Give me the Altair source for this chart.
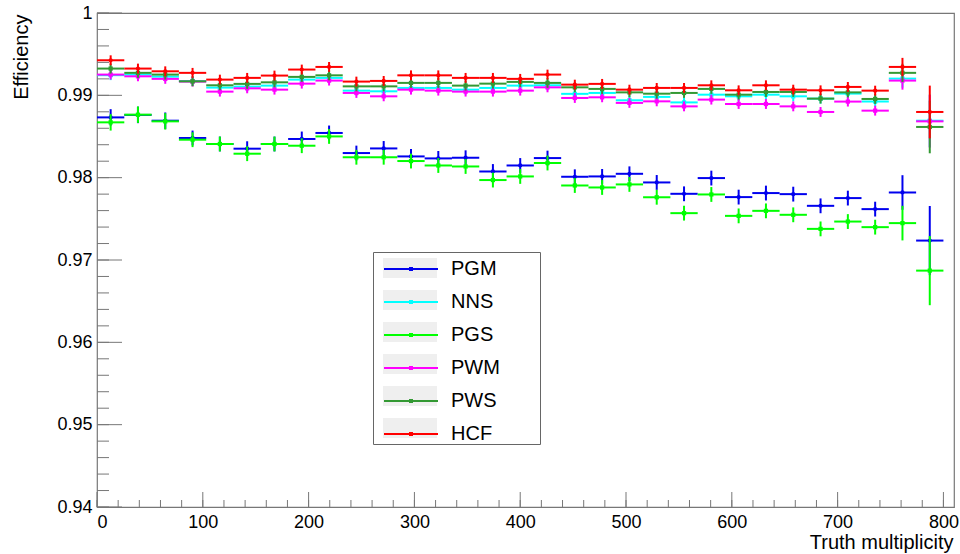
import altair as alt
import pandas as pd

# ---------------- data ----------------
names = ["PGM", "NNS", "PGS", "PWM", "PWS", "HCF"]
colors = ["#0000ee", "#00ffff", "#00ff00", "#ff00ff", "#339933", "#ff0000"]
shapes = ["circle", "square", "square", "square", "square", "circle"]

n_bins = 31
x_low, x_high = 0, 800

pgm = [0.98732, 0.98762, 0.98692, 0.98482, 0.98409, 0.98352, 0.98409, 0.98470, 0.98543, 0.98299,
       0.98355, 0.98258, 0.98234, 0.98242, 0.98075, 0.98148, 0.98238, 0.98011, 0.98015, 0.98047,
       0.97942, 0.97804, 0.97995, 0.97764, 0.97813, 0.97800, 0.97658, 0.97752, 0.97618, 0.97820,
       0.97236]
nns = [0.99245, 0.99252, 0.99227, 0.99173, 0.99094, 0.99106, 0.99118, 0.99191, 0.99212, 0.99057,
       0.99049, 0.99090, 0.99090, 0.99069, 0.99090, 0.99118, 0.99122, 0.99018, 0.99029, 0.98940,
       0.98981, 0.98914, 0.99008, 0.98988, 0.99008, 0.98988, 0.98960, 0.99021, 0.98925, 0.99203,
       0.98692]
pgs = [0.98672, 0.98765, 0.98684, 0.98461, 0.98409, 0.98291, 0.98409, 0.98388, 0.98501, 0.98248,
       0.98248, 0.98202, 0.98148, 0.98136, 0.97971, 0.98015, 0.98178, 0.97905, 0.97881, 0.97918,
       0.97762, 0.97569, 0.97796, 0.97536, 0.97597, 0.97549, 0.97378, 0.97467, 0.97399, 0.97448,
       0.96871]
pwm = [0.99252, 0.99231, 0.99200, 0.99167, 0.99045, 0.99085, 0.99069, 0.99142, 0.99179, 0.99029,
       0.98988, 0.99069, 0.99057, 0.99045, 0.99045, 0.99057, 0.99097, 0.98968, 0.98976, 0.98908,
       0.98927, 0.98866, 0.98948, 0.98895, 0.98895, 0.98866, 0.98798, 0.98924, 0.98814, 0.99179,
       0.98684]
pws = [0.99325, 0.99273, 0.99252, 0.99170, 0.99122, 0.99139, 0.99158, 0.99224, 0.99243, 0.99109,
       0.99109, 0.99151, 0.99151, 0.99118, 0.99142, 0.99163, 0.99151, 0.99097, 0.99078, 0.99036,
       0.99020, 0.99029, 0.99078, 0.99008, 0.99041, 0.99041, 0.98960, 0.99036, 0.98956, 0.99273,
       0.98616]
hcf = [0.99426, 0.99325, 0.99292, 0.99273, 0.99191, 0.99212, 0.99240, 0.99313, 0.99345, 0.99167,
       0.99175, 0.99243, 0.99243, 0.99212, 0.99212, 0.99200, 0.99252, 0.99130, 0.99139, 0.99069,
       0.99090, 0.99090, 0.99122, 0.99061, 0.99122, 0.99069, 0.99061, 0.99102, 0.99057, 0.99345,
       0.98798]

# statistical errors (half length of the vertical bars)
err_high_eff = [0.0006] * 29 + [0.0011, 0.0032]      # NNS, PWM, PWS, HCF
err_low_eff = [0.0010] * 3 + [0.0009] * 26 + [0.0021, 0.0042]  # PGM, PGS

series_values = [pgm, nns, pgs, pwm, pws, hcf]
series_errors = [err_low_eff, err_high_eff, err_low_eff, err_high_eff, err_high_eff, err_high_eff]

y_major = [0.94, 0.95, 0.96, 0.97, 0.98, 0.99, 1.0]
y_minor = [round(0.94 + 0.002 * i, 3) for i in range(31)]
x_major = [0, 100, 200, 300, 400, 500, 600, 700, 800]
x_minor = [20 * i for i in range(41)]

# ---------------- table ----------------
bg_names = [nm + " bg" for nm in names]
bw = (x_high - x_low) / n_bins
rows = []
for k, (nm, vals, errs) in enumerate(zip(names, series_values, series_errors)):
    for i, (v, e) in enumerate(zip(vals, errs)):
        rows.append({"series": nm, "series_bg": bg_names[k], "order": k,
                     "x_lo": x_low + i * bw, "x_hi": x_low + (i + 1) * bw,
                     "x_c": x_low + (i + 0.5) * bw,
                     "y": v, "y_lo": v - e, "y_hi": v + e})
df = pd.DataFrame(rows)

FONT = "Liberation Sans"
W, H = 857, 494

xscale = alt.Scale(domain=[0, 810], nice=False, zero=False)
yscale = alt.Scale(domain=[0.94, 1.0], nice=False, zero=False)

xaxis = alt.Axis(values=x_major, format="d", title="Truth multiplicity",
                 titleAnchor="end", titleAlign="right", titleBaseline="alphabetic",
                 titleX=W - 1, titleY=41)
yaxis = alt.Axis(values=y_major, format=".2~f", title="Efficiency",
                 titleAngle=270, titleAlign="right", titleBaseline="middle",
                 titleX=-76, titleY=1)


def X(field):
    return alt.X(field, type="quantitative", scale=xscale, axis=xaxis)


def Y(field):
    return alt.Y(field, type="quantitative", scale=yscale, axis=yaxis)


LEG_X, LEG_Y = 276, 239
LEG_COMMON = dict(
    title=None, orient="none", legendX=LEG_X, legendY=LEG_Y, direction="vertical",
    symbolSize=400, symbolOffset=21, labelOffset=29, padding=6, rowPadding=12,
    labelFont=FONT, labelFontSize=20, cornerRadius=0,
)

line_symbol = "M-2.7,0H2.7M-0.1,-0.1H0.1V0.1H-0.1Z"
color_enc = alt.Color(
    "series:N",
    scale=alt.Scale(domain=names, range=colors),
    legend=alt.Legend(
        symbolType=line_symbol, symbolStrokeWidth=2, labelColor="black",
        strokeColor="transparent", fillColor="transparent", zindex=2,
        **LEG_COMMON,
    ),
)

# grey box behind each legend sample; the trailing degenerate sub-path only
# widens the legend frame to the reference's width
bg_symbol = "M-2.7,-1H2.7V1H-2.7Z M12.4,0L12.4,0"
shape_bg = alt.Shape(
    "series_bg:N",
    scale=alt.Scale(domain=bg_names, range=[bg_symbol] * len(names)),
    legend=alt.Legend(
        symbolFillColor="#efefef", symbolStrokeColor="transparent", symbolStrokeWidth=0,
        symbolOpacity=1, labelColor="transparent", labelExpr="''",
        strokeColor="#666666", fillColor="white", zindex=1,
        **LEG_COMMON,
    ),
)

layers = []
# inward ROOT-style ticks
tick_color = "#777777"
layers.append(alt.Chart(pd.DataFrame({"v": y_minor})).mark_rule(color=tick_color, strokeWidth=1)
              .encode(y=Y("v"), x=alt.value(0), x2=alt.value(12)))
layers.append(alt.Chart(pd.DataFrame({"v": y_major})).mark_rule(color=tick_color, strokeWidth=1)
              .encode(y=Y("v"), x=alt.value(0), x2=alt.value(25)))
layers.append(alt.Chart(pd.DataFrame({"v": x_minor})).mark_rule(color=tick_color, strokeWidth=1)
              .encode(x=X("v"), y=alt.value(H), y2=alt.value(H - 7)))
layers.append(alt.Chart(pd.DataFrame({"v": x_major})).mark_rule(color=tick_color, strokeWidth=1)
              .encode(x=X("v"), y=alt.value(H), y2=alt.value(H - 15)))

# invisible layer that only feeds the legend's grey symbol backgrounds
layers.append(alt.Chart(df).mark_point(filled=True, opacity=0, color="#efefef").encode(
    x=X("x_c"), y=Y("y"), shape=shape_bg))

for nm, shp in zip(names, shapes):
    base = alt.Chart(df).transform_filter(alt.datum.series == nm)
    layers.append(base.mark_rule(strokeWidth=2).encode(
        x=X("x_lo"), x2="x_hi", y=Y("y"), color=color_enc))
    layers.append(base.mark_rule(strokeWidth=2).encode(
        x=X("x_c"), y=Y("y_lo"), y2="y_hi", color=color_enc))
    layers.append(base.mark_point(filled=True, size=18, shape=shp, opacity=1).encode(
        x=X("x_c"), y=Y("y"), color=color_enc))

chart = alt.layer(*layers).properties(
    width=W, height=H,
    padding={"left": 97, "top": 13, "right": 6, "bottom": 47},
    autosize=alt.AutoSizeParams(type="none"),
    background="white",
).configure_view(stroke="#777777", strokeWidth=1.2).configure_axis(
    grid=False, ticks=False, tickSize=0, domain=False,
    labelFont=FONT, labelFontSize=18, labelColor="black",
    titleFont=FONT, titleFontSize=20, titleFontWeight="normal", titleColor="black",
).configure_axisY(labelPadding=5).configure_axisX(labelPadding=6)

chart.save("out.html", embed_options={"renderer": "svg", "actions": False})
